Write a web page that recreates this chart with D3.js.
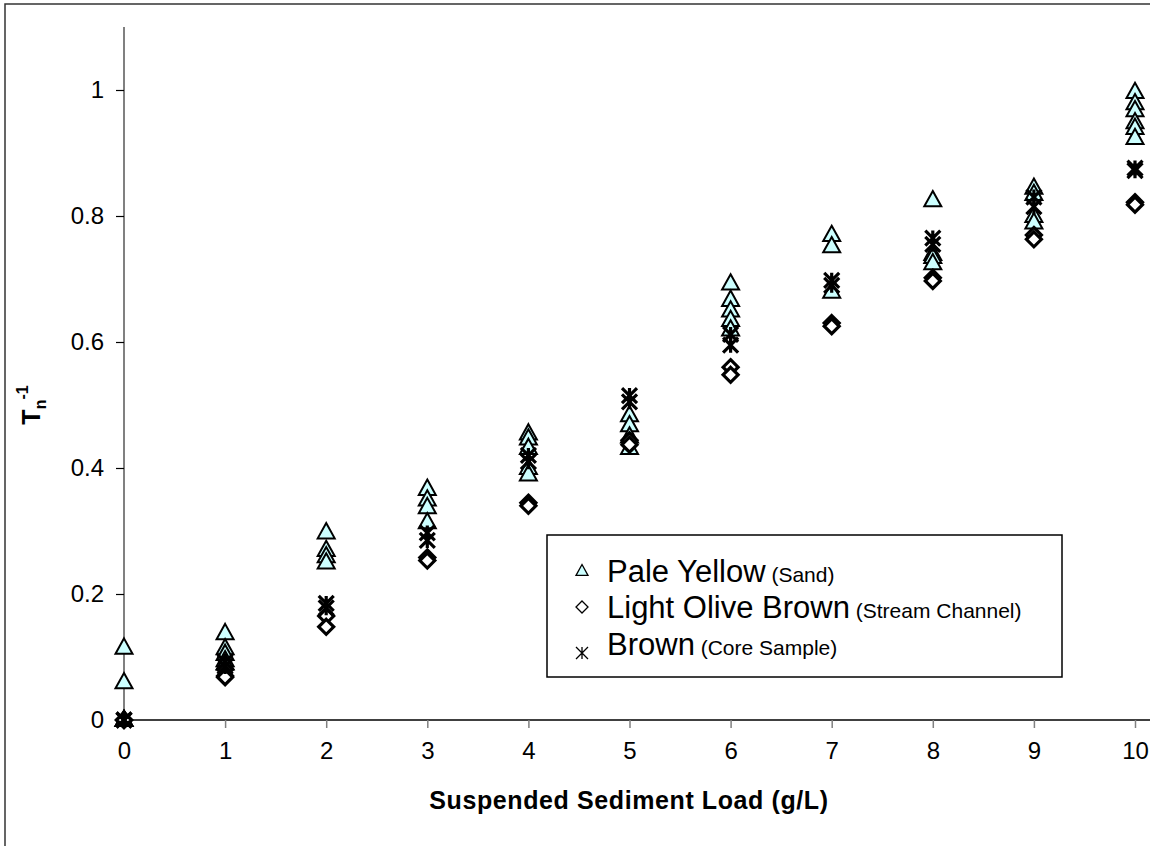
<!DOCTYPE html>
<html>
<head>
<meta charset="utf-8">
<script src="https://cdn.jsdelivr.net/npm/d3@7"></script>
<style>
  body { margin: 0; background: #fff; }
  text { font-family: Arial, "Liberation Sans", sans-serif; }
</style>
</head>
<body>
<div id="chart"></div>
<script>
// sediment load (g/L) on x
const loads = [0, 1, 2, 3, 4, 5, 6, 7, 8, 9, 10];

// replicate readings of Tn^-1 at each load
const paleYellow = [
  [0.115, 0.06, 0, 0, 0],
  [0.138, 0.114, 0.105, 0.095, 0.09],
  [0.298, 0.27, 0.26, 0.25],
  [0.367, 0.35, 0.338, 0.314],
  [0.455, 0.447, 0.432, 0.40, 0.39],
  [0.484, 0.468, 0.45, 0.432],
  [0.693, 0.667, 0.65, 0.635, 0.62],
  [0.77, 0.752, 0.68],
  [0.825, 0.74, 0.735, 0.725],
  [0.845, 0.835, 0.80, 0.79],
  [0.997, 0.979, 0.968, 0.949, 0.94, 0.924]
];
const lightOliveBrown = [
  [0, 0],
  [0.08, 0.07, 0.068],
  [0.165, 0.148],
  [0.258, 0.253],
  [0.345, 0.34],
  [0.444, 0.437],
  [0.56, 0.548],
  [0.63, 0.625],
  [0.702, 0.697],
  [0.77, 0.763],
  [0.822, 0.818]
];
const brown = [
  [0, 0],
  [0.092, 0.085],
  [0.185, 0.178],
  [0.297, 0.285],
  [0.42, 0.41],
  [0.515, 0.505],
  [0.612, 0.595],
  [0.698, 0.69],
  [0.765, 0.755],
  [0.83, 0.815],
  [0.876, 0.872]
];

const yTicks = [0, 0.2, 0.4, 0.6, 0.8, 1];
const xTicks = [0, 1, 2, 3, 4, 5, 6, 7, 8, 9, 10];

const W = 1150, H = 846;
const svg = d3.select("#chart").append("svg").attr("width", W).attr("height", H);

// outer chart border (cropped on right and bottom)
svg.append("rect").attr("x", 5).attr("y", 4).attr("width", 1200).attr("height", 900)
  .attr("fill", "none").attr("stroke", "#333").attr("stroke-width", 1.5);

const x = d3.scaleLinear().domain([0, 10]).range([124, 1135]);
const y = d3.scaleLinear().domain([0, 1.1]).range([720, 27]);

// y axis
const yAxis = svg.append("g").attr("transform", "translate(124,0)")
  .call(d3.axisLeft(y).tickValues(yTicks).tickSize(8).tickPadding(12).tickFormat(d => d3.format("~g")(d)));
yAxis.select(".domain").attr("stroke", "#808080").attr("stroke-width", 2).attr("d", `M0,${y(1.1)}V${y(0)}`);
yAxis.selectAll(".tick line").attr("stroke", "#000").attr("stroke-width", 1.2);
yAxis.selectAll(".tick text").attr("font-size", 24).attr("fill", "#000");

// x axis
const xAxis = svg.append("g").attr("transform", "translate(0,720)")
  .call(d3.axisBottom(x).tickValues(xTicks).tickSize(8).tickPadding(14));
xAxis.select(".domain").attr("stroke", "#000").attr("stroke-width", 1.5).attr("d", `M${x(0)},0H${W}`);
xAxis.selectAll(".tick line").attr("stroke", "#808080").attr("stroke-width", 1.5);
xAxis.selectAll(".tick text").attr("font-size", 24).attr("fill", "#000");

// axis titles
svg.append("text").attr("x", 629).attr("y", 809).attr("text-anchor", "middle")
  .attr("font-size", 25).attr("font-weight", "bold").attr("letter-spacing", 0.6)
  .text("Suspended Sediment Load (g/L)");

const yt = svg.append("text").attr("transform", "translate(40,405) rotate(-90)")
  .attr("text-anchor", "middle").attr("font-size", 25).attr("font-weight", "bold");
yt.append("tspan").text("T");
yt.append("tspan").attr("font-size", 16).attr("dy", 6).text("n");
yt.append("tspan").attr("font-size", 16).attr("dy", -18).text("-1");

// marker shapes
function triangle(g, s, sw) {
  const h = s * 0.9;
  g.append("path").attr("d", `M0,${-h * 0.6}L${s / 2},${h * 0.4}L${-s / 2},${h * 0.4}Z`)
    .attr("fill", "#ccffff").attr("stroke", "#000").attr("stroke-width", sw);
}
function diamond(g, s, sw) {
  const r = s / 2;
  g.append("path").attr("d", `M0,${-r}L${r},0L0,${r}L${-r},0Z`)
    .attr("fill", "#fff").attr("stroke", "#000").attr("stroke-width", sw);
}
function star(g, s, sw) {
  const r = s / 2;
  g.append("path").attr("d", `M${-r},${-r}L${r},${r}M${r},${-r}L${-r},${r}M0,${-r}V${r}`)
    .attr("fill", "none").attr("stroke", "#000").attr("stroke-width", sw);
}

const series = [
  { values: paleYellow, draw: triangle, size: 17, sw: 2 },
  { values: lightOliveBrown, draw: diamond, size: 15, sw: 3.2 },
  { values: brown, draw: star, size: 15, sw: 3.2 }
];

series.forEach(s => {
  const pts = [];
  s.values.forEach((arr, i) => arr.forEach(v => pts.push([loads[i], v])));
  svg.append("g").selectAll("g").data(pts).join("g")
    .attr("transform", d => `translate(${x(d[0])},${y(d[1])})`)
    .each(function() { s.draw(d3.select(this), s.size, s.sw); });
});

// legend
const lg = svg.append("g");
lg.append("rect").attr("x", 547).attr("y", 535).attr("width", 515).attr("height", 142)
  .attr("fill", "#fff").attr("stroke", "#000").attr("stroke-width", 1.5);
const legendItems = [
  { name: "Pale Yellow", note: " (Sand)", draw: triangle },
  { name: "Light Olive Brown", note: " (Stream Channel)", draw: diamond },
  { name: "Brown", note: " (Core Sample)", draw: star }
];
const rowY = [571, 607, 644];
legendItems.forEach((d, i) => {
  const cy = rowY[i];
  const m = lg.append("g").attr("transform", `translate(582,${cy + (i === 2 ? 9 : 0)})`);
  d.draw(m, 12, 1.3);
  const t = lg.append("text").attr("x", 607).attr("y", cy + 11);
  t.append("tspan").attr("font-size", 31).text(d.name);
  t.append("tspan").attr("font-size", 21).text(d.note);
});
</script>
</body>
</html>
